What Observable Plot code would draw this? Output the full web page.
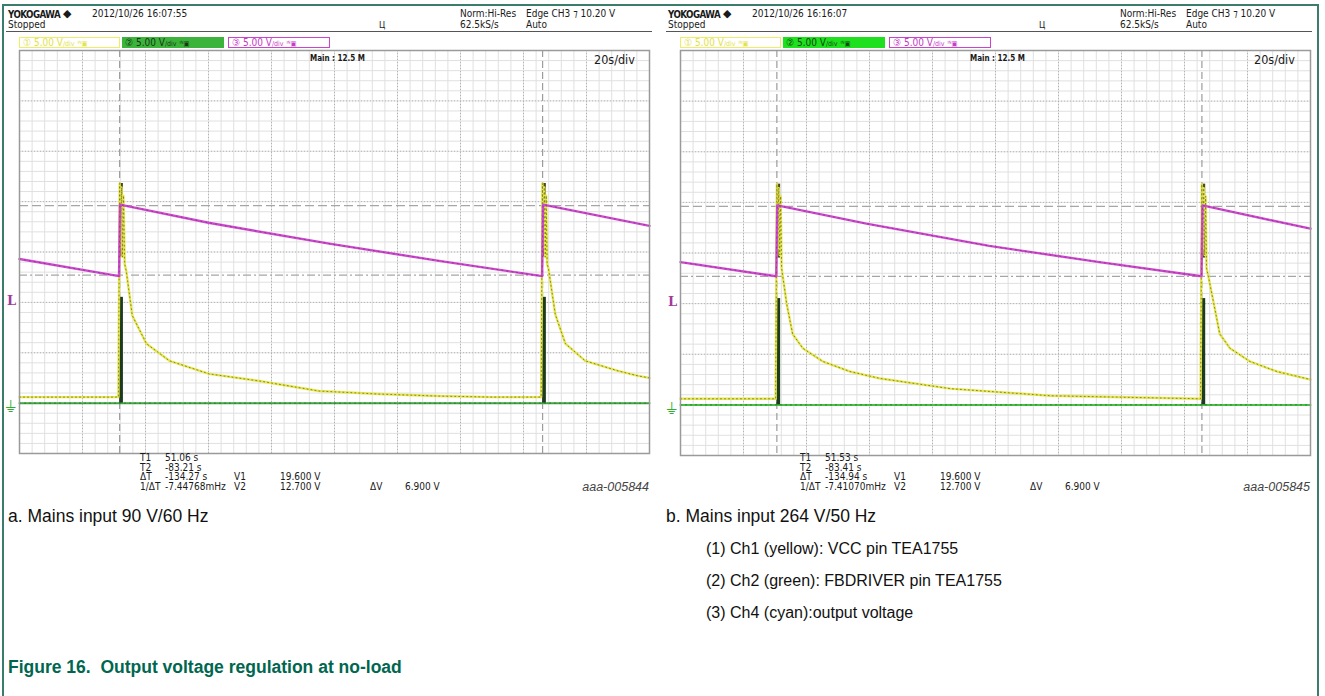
<!DOCTYPE html>
<html><head><meta charset="utf-8">
<script src="https://cdn.jsdelivr.net/npm/d3@7"></script>
<script src="https://cdn.jsdelivr.net/npm/@observablehq/plot@0.6"></script>
<style>
body{margin:0;background:#fff;}
#page{position:relative;width:1325px;height:696px;overflow:hidden;font-family:"Liberation Sans",Arial,sans-serif;}
.frame{position:absolute;left:2px;top:4px;width:1317px;height:760px;border:2px solid #3b7d6c;box-sizing:border-box;}
.t{position:absolute;white-space:pre;line-height:1;}
.scope{font-family:"Liberation Sans Narrow","DejaVu Sans Condensed","Roboto Condensed","Arial Narrow",sans-serif;font-size:10px;color:#1a1a1a;}
.cap{font-size:17.5px;color:#111;}
.note{font-size:16px;color:#111;}
.fig{font-size:17.5px;font-weight:bold;color:#00664f;}
.box{position:absolute;height:11px;top:37px;box-sizing:border-box;font-size:10px;line-height:9px;padding-left:3px;white-space:nowrap;}
.svgwrap{position:absolute;}
</style></head>
<body><div id="page"><div class="frame"></div></div>
<script>
// ---------- data ----------
const VOLT_DOMAIN = [-5, 35];          // 5 V/div, 8 divisions, ground 7 div from top
const TIME_DOMAIN_A = [-115, 85];      // 20 s/div, 10 divisions
const TIME_DOMAIN_B = [-114, 86];
const TRIG_LEVEL = 10.2;

// Panel a (90 V / 60 Hz)
const CH1_A_T = [-115, -100, -83.6, -83.2, -82.9, -82.6, -82.3, -82.0, -81.6, -81.1, -79.2, -74.7, -67.4, -54.8, -38.9, -19.9, -1, 18, 35, 50.6, 51.0, 51.3, 51.6, 51.9, 52.2, 52.5, 52.9, 55.1, 58.3, 64.6, 75, 81.4, 85];
const CH1_A_V = [0.6, 0.6, 0.6, 21.8, 15.5, 21.4, 14.5, 20.6, 13.8, 13.1, 8.7, 5.9, 4.2, 2.9, 2.2, 1.2, 0.9, 0.7, 0.6, 0.6, 21.8, 15.5, 21.4, 14.5, 20.6, 13.8, 13.4, 8.8, 5.9, 4.2, 3.2, 2.7, 2.5];
const CH2_A_T = [-115, 85];
const CH2_A_V = [0, 0];
const CH3_A_T = [-115, -83.4, -83.1, -55, -16.2, 18.7, 50.9, 51.2, 85];
const CH3_A_V = [14.3, 12.6, 19.7, 17.9, 15.8, 14.1, 12.6, 19.7, 17.6];
const BURST_A_T = [-83.21, 51.06];
const CURSOR_T_A = [-83.21, 51.06];
const CURSOR_V_A = [19.6, 12.7];

// Panel b (264 V / 50 Hz)
const CH1_B_T = [-114, -100, -83.8, -83.4, -83.1, -82.8, -82.5, -82.2, -81.9, -80.3, -78.4, -75.2, -68.9, -60.3, -50.5, -28.3, 3.5, 35.2, 51.1, 51.5, 51.8, 52.1, 52.4, 52.7, 53.0, 53.7, 55.3, 57.2, 60.4, 66.7, 75.3, 86];
const CH1_B_V = [0.6, 0.6, 0.6, 21.8, 15.5, 21.4, 14.8, 20.6, 13.5, 10.0, 7.0, 5.6, 4.3, 3.3, 2.6, 1.6, 0.9, 0.7, 0.6, 21.8, 15.5, 21.4, 14.8, 20.6, 13.5, 12.5, 10.0, 7.0, 5.6, 4.3, 3.3, 2.5];
const CH2_B_T = [-114, 86];
const CH2_B_V = [0, 0];
const CH3_B_T = [-114, -83.6, -83.3, -55, -16, 19, 51.4, 51.7, 86];
const CH3_B_V = [14.1, 12.7, 19.7, 17.9, 15.7, 14.1, 12.7, 19.7, 17.4];
const BURST_B_T = [-83.41, 51.53];
const CURSOR_T_B = [-83.41, 51.53];
const CURSOR_V_B = [19.6, 12.7];

const BURST_W = 1.2;
const BURST_LOW = [0, 10.5];
const BURST_HIGH = [14.5, 21.8];

// Text
const HEADER_A = ["2012/10/26 16:07:55"];
const HEADER_B = ["2012/10/26 16:16:07"];
const READ_LABELS = ["T1", "T2", "ΔT", "1/ΔT"];
const READ_A = ["51.06 s", "-83.21 s", "-134.27 s", "-7.44768mHz"];
const READ_B = ["51.53 s", "-83.41 s", "-134.94 s", "-7.41070mHz"];
const V_LABELS = ["V1", "V2", "ΔV"];
const V_VALUES = ["19.600 V", "12.700 V", "6.900 V"];
const IDS = ["aaa-005844", "aaa-005845"];
const CAPTIONS = ["a. Mains input 90 V/60 Hz", "b. Mains input 264 V/50 Hz"];
const NOTES = ["(1) Ch1 (yellow): VCC pin TEA1755", "(2) Ch2 (green): FBDRIVER pin TEA1755", "(3) Ch4 (cyan):output voltage"];
const FIG_TITLE = "Figure 16.  Output voltage regulation at no-load";

// ---------- drawing ----------
const page = document.getElementById("page");
function txt(s, x, y, cls, extra) {
  const d = document.createElement("div");
  d.className = "t " + cls;
  d.textContent = s;
  d.style.left = x + "px"; d.style.top = y + "px";
  if (extra) Object.assign(d.style, extra);
  page.appendChild(d);
  return d;
}
function box(html, x, w, style) {
  const d = document.createElement("div");
  d.className = "box scope";
  d.innerHTML = html;
  d.style.left = x + "px"; d.style.width = w + "px";
  Object.assign(d.style, style);
  page.appendChild(d);
}

function scopePlot(p) {
  const [x0, x1] = p.xDomain;
  const minorX = d3.range(x0, x1 + 0.01, 4);
  const majorX = d3.range(x0, x1 + 0.01, 20);
  const minorY = d3.range(VOLT_DOMAIN[0], VOLT_DOMAIN[1] + 0.01, 1);
  const majorY = d3.range(VOLT_DOMAIN[0], VOLT_DOMAIN[1] + 0.01, 5);
  return Plot.plot({
    width: p.width, height: p.height,
    marginLeft: p.ml, marginRight: p.mr, marginTop: 2, marginBottom: 2,
    x: {domain: p.xDomain, axis: null},
    y: {domain: VOLT_DOMAIN, axis: null},
    style: {background: "transparent", overflow: "visible"},
    marks: [
      Plot.ruleX(minorX, {stroke: "#e0e0e0", strokeWidth: 1}),
      Plot.ruleY(minorY, {stroke: "#e0e0e0", strokeWidth: 1}),
      Plot.ruleX(majorX, {stroke: "#b4b4b4", strokeDasharray: "1,2"}),
      Plot.ruleY(majorY, {stroke: "#b4b4b4", strokeDasharray: "1,2"}),
      Plot.ruleX(p.cursorT, {stroke: "#9c9c9c", strokeDasharray: "7,4", strokeWidth: 1.2}),
      Plot.ruleY([p.cursorV[0]], {stroke: "#a6a6a6", strokeDasharray: "9,4", strokeWidth: 1.3}),
      Plot.ruleY([p.cursorV[1]], {stroke: "#a6a6a6", strokeDasharray: "8,3,2,3", strokeWidth: 1.3}),
      Plot.line(p.ch2V, {x: p.ch2T, y: p.ch2V, stroke: p.green, strokeWidth: 2}),
      Plot.line(p.ch2V, {x: p.ch2T, y: p.ch2V, stroke: "#2a6a2a", strokeWidth: 0.8, strokeDasharray: "1,4"}),
      Plot.rect(p.burstT, {x1: t => t, x2: t => t + BURST_W, y1: BURST_LOW[0], y2: BURST_LOW[1], fill: "#1d3b1d"}),
      Plot.rect(p.burstT, {x1: t => t, x2: t => t + BURST_W, y1: BURST_HIGH[0], y2: BURST_HIGH[1], fill: "#4a4a18"}),
      Plot.line(p.ch1V, {x: p.ch1T, y: p.ch1V, stroke: "#e6e650", strokeWidth: 2.4}),
      Plot.line(p.ch1V, {x: p.ch1T, y: p.ch1V, stroke: "#7c7c22", strokeWidth: 0.9, strokeDasharray: "1,3"}),
      Plot.line(p.ch3V, {x: p.ch3T, y: p.ch3V, stroke: "#cc4acc", strokeWidth: 2.4}),
      Plot.line(p.ch3V, {x: p.ch3T, y: p.ch3V, stroke: "#8e2a8e", strokeWidth: 0.8, strokeDasharray: "1,4"}),
      Plot.frame({stroke: "#9a9a9a", strokeWidth: 1.5}),
      Plot.text(["L"], {x: [x0], y: [TRIG_LEVEL], dx: -8, fill: "#a03aa0", fontWeight: "bold", fontSize: 13, fontFamily: "DejaVu Serif"}),
      Plot.text(["⏚"], {x: [x0], y: [0], dx: -9, dy: 4, fill: "#2fae2f", fontSize: 16, fontFamily: "DejaVu Sans"})
    ]
  });
}

const panels = [
  {ox: 0, top: 48, width: 660, height: 407, ml: 19, mr: 11, xDomain: TIME_DOMAIN_A,
   ch1T: CH1_A_T, ch1V: CH1_A_V, ch2T: CH2_A_T, ch2V: CH2_A_V, ch3T: CH3_A_T, ch3V: CH3_A_V,
   burstT: BURST_A_T, cursorT: CURSOR_T_A, cursorV: CURSOR_V_A, green: "#3fa63f",
   header: HEADER_A, read: READ_A, id: IDS[0], box2: "#3cb43c", box2text: "#143814"},
  {ox: 660, top: 48, width: 660, height: 409, ml: 20, mr: 10, xDomain: TIME_DOMAIN_B,
   ch1T: CH1_B_T, ch1V: CH1_B_V, ch2T: CH2_B_T, ch2V: CH2_B_V, ch3T: CH3_B_T, ch3V: CH3_B_V,
   burstT: BURST_B_T, cursorT: CURSOR_T_B, cursorV: CURSOR_V_B, green: "#45c045",
   header: HEADER_B, read: READ_B, id: IDS[1], box2: "#1ee01e", box2text: "#0d4a0d"}
];

panels.forEach((p, i) => {
  const ox = p.ox;
  // header
  txt("YOKOGAWA", ox + 8, 9, "scope", {fontWeight: "bold", fontSize: "11px", letterSpacing: "-0.6px", transform: "scaleX(0.88)", transformOrigin: "left"});
  txt("◆", ox + 63, 8, "scope", {fontSize: "11px", fontFamily: "DejaVu Sans"});
  txt(p.header[0], ox + 92, 9, "scope");
  txt("Stopped", ox + 8, 20, "scope");
  txt("Norm:Hi-Res", ox + 460, 9, "scope");
  txt("62.5kS/s", ox + 460, 20, "scope");
  txt("Edge CH3 ⁊ 10.20 V", ox + 526, 9, "scope");
  txt("Auto", ox + 526, 20, "scope");
  txt("Ц", ox + 379, 21, "scope", {fontSize: "9px"});
  const line = document.createElement("div");
  Object.assign(line.style, {position: "absolute", left: (ox + 6) + "px", top: "31px", width: "646px", height: "1px", background: "#555"});
  page.appendChild(line);
  // channel boxes
  box('① 5.00 V<span style="font-size:7px">/div</span> <span style="font-size:7px">ᴵᴺ▣</span>', ox + p.ml, 101,
      {border: "1px solid #eeee66", color: "#e2e24a", background: "#fff"});
  box('② 5.00 V<span style="font-size:7px">/div</span> <span style="font-size:7px">ᴵᴺ▣</span>', ox + p.ml + 103, 102,
      {background: p.box2, color: p.box2text, paddingTop: "1px"});
  box('③ 5.00 V<span style="font-size:7px">/div</span> <span style="font-size:7px">ᴵᴺ▣</span>', ox + p.ml + 209, 102,
      {border: "1px solid #cc44cc", color: "#c43ac4", background: "#fff"});
  // plot
  const wrap = document.createElement("div");
  wrap.className = "svgwrap";
  wrap.style.left = ox + "px"; wrap.style.top = p.top + "px";
  wrap.appendChild(scopePlot(p));
  page.appendChild(wrap);
  // in-grid labels
  txt("Main : 12.5 M", ox + 310, 55, "scope", {fontSize: "8px", fontWeight: "bold"});
  txt("20s/div", ox + 594, 54, "scope", {fontSize: "12.5px"});
  // readouts
  READ_LABELS.forEach((l, k) => {
    txt(l, ox + 140, 453 + k * 9.5, "scope");
    txt(p.read[k], ox + 165, 453 + k * 9.5, "scope");
  });
  txt(V_LABELS[0], ox + 234, 472, "scope"); txt(V_VALUES[0], ox + 280, 472, "scope");
  txt(V_LABELS[1], ox + 234, 481.5, "scope"); txt(V_VALUES[1], ox + 280, 481.5, "scope");
  txt(V_LABELS[2], ox + 370, 482, "scope"); txt(V_VALUES[2], ox + 405, 482, "scope");
  const id = txt(p.id, 0, 481, "", {fontSize: "12.5px", fontStyle: "italic", color: "#444"});
  id.style.left = "auto"; id.style.right = (1325 - (ox + 649 + (i ? 1 : 0))) + "px";
});

// captions
txt(CAPTIONS[0], 8, 508, "cap");
txt(CAPTIONS[1], 666, 508, "cap");
NOTES.forEach((n, k) => txt(n, 706, 541 + k * 32, "note"));
txt(FIG_TITLE, 8, 659, "fig");
</script>
</body></html>
